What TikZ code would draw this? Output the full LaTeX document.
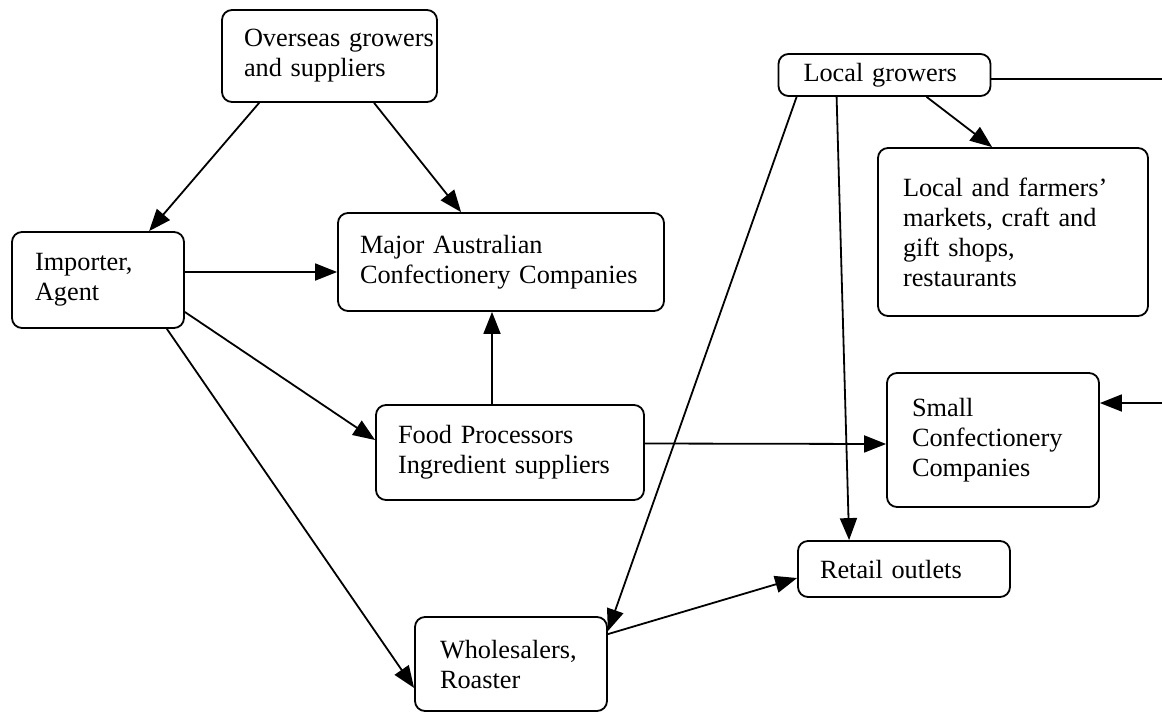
\documentclass[tikz,border=0pt]{standalone}
\usepackage{fontspec}
\setmainfont{Liberation Serif}
\usetikzlibrary{arrows.meta,calc}
\begin{document}
\begin{tikzpicture}[x=1pt,y=-1pt,
  box/.style={draw, line width=1.8pt, rounded corners=10pt, align=left,
    inner xsep=25pt, inner ysep=2pt, font=\fontsize{26.3}{30}\selectfont},
  arr/.style={line width=1.8pt, -{Triangle[length=22pt,width=17pt]}},
  ln/.style={line width=1.8pt}]
\useasboundingbox (0,0) rectangle (1162,713);

\node[box, minimum width=215pt, minimum height=92pt, inner xsep=22pt, text width=171pt] (os) at (329.5,56) {\mbox{Overseas growers}\\and suppliers};
\node[box, minimum width=172pt, minimum height=96pt, inner xsep=23pt, text width=126pt] (im) at (98,280) {Importer,\\Agent};
\node[box, minimum width=326pt, minimum height=98pt, inner xsep=22pt, text width=282pt] (mc) at (501,262) {Major Australian\\\mbox{Confectionery Companies}};
\node[box, minimum width=212pt, minimum height=42pt, text width=162pt] (lg) at (884.5,75) {Local growers};
\node[box, minimum width=270pt, minimum height=168pt, text width=220pt] (lf) at (1013,232) {Local and farmers'\\markets, craft and\\gift shops,\\restaurants};
\node[box, minimum width=268pt, minimum height=95pt, inner xsep=22pt, text width=224pt] (fp) at (510,452.5) {Food Processors\\\mbox{Ingredient suppliers}};
\node[box, minimum width=212pt, minimum height=134pt, text width=162pt] (sc) at (993,440) {Small\\Confectionery\\Companies};
\node[box, minimum width=212pt, minimum height=56pt, inner xsep=22pt, text width=168pt] (ro) at (904,569) {Retail outlets};
\node[box, minimum width=192pt, minimum height=94pt, text width=142pt] (ws) at (511,664) {Wholesalers,\\Roaster};

\coordinate (lgR) at (1162,79);
\coordinate (scR) at (1162,403);

\draw[arr] ([xshift=38pt]os.south west) -- ([xshift=138pt]im.north west);
\draw[arr] ([xshift=153pt]os.south west) -- ([xshift=124pt]mc.north west);
\draw[arr] ([yshift=8pt]im.east) -- ([yshift=-10pt]mc.west);
\draw[arr] ([yshift=-32pt]im.east) -- ([yshift=12.5pt]fp.west);
\draw[arr] ([xshift=-18pt]im.south east) -- ([yshift=-24pt]ws.west);
\draw[arr] ([xshift=-18pt]fp.north) -- ([xshift=-9pt]mc.south);
\draw[arr] ([yshift=9pt]fp.east) -- ([yshift=-4pt]sc.west);
\draw[arr] ([xshift=19pt]lg.south west) -- ([yshift=-15pt]ws.north east);
\draw[arr] ([yshift=-18pt]ws.north east) -- ([yshift=-9pt]ro.west);
\draw[arr] ([xshift=59pt]lg.south west) -- ([xshift=52pt]ro.north west);
\draw[arr] ([xshift=149pt]lg.south west) -- ([xshift=115pt]lf.north west);
\draw[ln] ([yshift=-4pt]lg.east) -- (lgR);
\draw[arr] (scR) -- ([yshift=37pt]sc.east);
\end{tikzpicture}
\end{document}
